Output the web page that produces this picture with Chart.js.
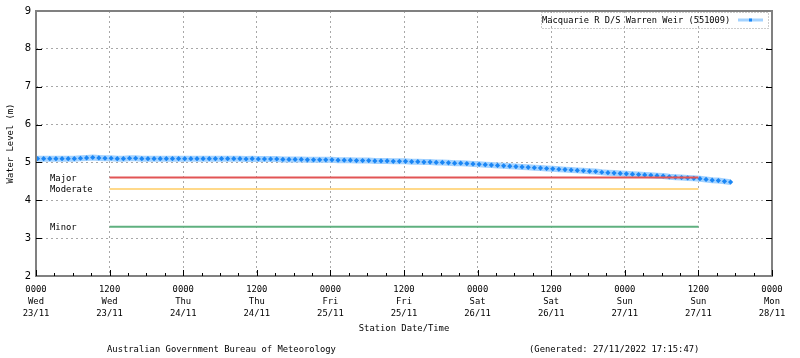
<!DOCTYPE html>
<html>

<head>
    <script src="https://cdn.jsdelivr.net/npm/chart.js"></script>
    <style>
        body { margin: 0; background: #fff; }
    </style>
</head>

<body>
    <canvas id="chartId" width="800" height="358"></canvas>
    <script>
        // hours since 0000 Wed 23/11, one reading per hour
        const startHour = 0.25;
        const levels = [
            5.10, 5.10, 5.10, 5.10, 5.10, 5.10, 5.10, 5.11, 5.12, 5.13,
            5.12, 5.11, 5.11, 5.10, 5.10, 5.11, 5.11, 5.10, 5.10, 5.10,
            5.10, 5.10, 5.10, 5.10, 5.10, 5.10, 5.10, 5.10, 5.10, 5.10,
            5.10, 5.10, 5.10, 5.10, 5.09, 5.10, 5.09, 5.09, 5.09, 5.09,
            5.08, 5.08, 5.08, 5.08, 5.07, 5.07, 5.07, 5.07, 5.07, 5.06,
            5.06, 5.06, 5.05, 5.05, 5.05, 5.04, 5.04, 5.04, 5.03, 5.03,
            5.03, 5.02, 5.02, 5.01, 5.01, 5.00, 5.00, 4.99, 4.98, 4.98,
            4.97, 4.96, 4.95, 4.94, 4.93, 4.92, 4.91, 4.90, 4.89, 4.88,
            4.87, 4.86, 4.85, 4.84, 4.83, 4.82, 4.81, 4.80, 4.79, 4.78,
            4.77, 4.76, 4.74, 4.73, 4.72, 4.71, 4.70, 4.69, 4.68, 4.67,
            4.66, 4.65, 4.64, 4.62, 4.61, 4.60, 4.59, 4.58, 4.57, 4.55,
            4.53, 4.52, 4.50, 4.48
        ];

        // flood classification levels (m) and the span they are drawn over (hours)
        const floodNames = ['Major', 'Moderate', 'Minor'];
        const floodLevels = [4.6, 4.3, 3.3];
        const floodColors = ['#e25555', '#ffd98a', '#5fb07f'];
        const floodSpan = [12, 108];

        // x tick labels, one per 12 hours
        const tickTimes = ['0000', '1200'];
        const tickDays = ['Wed', 'Wed', 'Thu', 'Thu', 'Fri', 'Fri', 'Sat', 'Sat', 'Sun', 'Sun', 'Mon'];
        const tickDates = ['23/11', '23/11', '24/11', '24/11', '25/11', '25/11', '26/11', '26/11', '27/11', '27/11', '28/11'];

        const seriesName = 'Macquarie R D/S Warren Weir (551009)';
        const mono = 'DejaVu Sans Mono';
        const textSize = 8.85;

        const points = levels.map((v, i) => ({ x: startHour + i, y: v }));

        const datasets = floodLevels.map((lv, i) => ({
            label: floodNames[i],
            data: [{ x: floodSpan[0], y: lv }, { x: floodSpan[1], y: lv }],
            borderColor: floodColors[i],
            borderWidth: 2,
            pointRadius: 0,
            fill: false
        }));
        datasets.push({
            label: seriesName,
            data: points,
            borderColor: '#a3d2ff',
            borderWidth: 6,
            pointStyle: 'rectRot',
            pointRadius: 2.6,
            pointBackgroundColor: '#1a86f5',
            pointBorderColor: '#1a86f5',
            pointBorderWidth: 0,
            fill: false
        });

        // frame, inward ticks, flood labels, legend box and footer
        const extras = {
            id: 'extras',
            afterDatasetsDraw(chart) {
                const ctx = chart.ctx;
                const a = chart.chartArea;
                const xs = chart.scales.x, ys = chart.scales.y;
                ctx.save();

                // frame
                ctx.strokeStyle = '#808080';
                ctx.lineWidth = 2;
                ctx.strokeRect(a.left, a.top, a.right - a.left, a.bottom - a.top);

                // inward ticks
                ctx.strokeStyle = '#000';
                ctx.lineWidth = 1;
                ctx.beginPath();
                for (let h = 0; h <= 120; h += 3) {
                    const px = Math.round(xs.getPixelForValue(h)) + 0.5;
                    const len = h % 12 === 0 ? 6 : 3;
                    ctx.moveTo(px, a.bottom);
                    ctx.lineTo(px, a.bottom - len);
                }
                for (let v = 3; v <= 8; v++) {
                    const py = Math.round(ys.getPixelForValue(v)) + 0.5;
                    ctx.moveTo(a.left, py);
                    ctx.lineTo(a.left + 6, py);
                    ctx.moveTo(a.right, py);
                    ctx.lineTo(a.right - 6, py);
                }
                ctx.stroke();

                // flood level labels
                ctx.font = textSize + 'px "' + mono + '"';
                ctx.fillStyle = '#000';
                ctx.textBaseline = 'middle';
                ctx.textAlign = 'left';
                floodLevels.forEach((lv, i) => {
                    ctx.fillText(floodNames[i], 50, ys.getPixelForValue(lv) + 1);
                });

                // footer
                ctx.fillText('Australian Government Bureau of Meteorology', 107, 350);
                ctx.fillText('(Generated: 27/11/2022 17:15:47)', 529, 350);

                // legend
                const lx = 541, ly = 12, lw = 227, lh = 16;
                ctx.setLineDash([1, 2]);
                ctx.strokeStyle = '#999';
                ctx.strokeRect(lx + 0.5, ly + 0.5, lw, lh);
                ctx.setLineDash([]);
                ctx.font = '8.7px "' + mono + '"';
                ctx.fillText(seriesName, 542, ly + lh / 2 + 1);
                ctx.strokeStyle = '#a3d2ff';
                ctx.lineWidth = 3;
                ctx.beginPath();
                ctx.moveTo(738, ly + lh / 2);
                ctx.lineTo(763, ly + lh / 2);
                ctx.stroke();
                ctx.fillStyle = '#1a86f5';
                ctx.fillRect(749, ly + lh / 2 - 1.5, 3, 3);
                ctx.restore();
            }
        };

        new Chart(document.getElementById('chartId'), {
            type: 'line',
            data: { datasets: datasets },
            plugins: [extras],
            options: {
                responsive: false,
                animation: false,
                layout: { padding: { left: 5, right: 28, top: 11, bottom: 24 } },
                plugins: {
                    legend: { display: false },
                    tooltip: { enabled: false }
                },
                scales: {
                    x: {
                        type: 'linear',
                        min: 0,
                        max: 120,
                        afterFit: s => { s.height = 58; },
                        ticks: {
                            stepSize: 12,
                            autoSkip: false,
                            maxRotation: 0,
                            padding: 8,
                            color: '#000',
                            font: { family: mono, size: textSize, lineHeight: 1.36 },
                            callback: (v) => {
                                const i = Math.round(v / 12);
                                return [tickTimes[i % 2], tickDays[i], tickDates[i]];
                            }
                        },
                        grid: {
                            drawTicks: false,
                            color: '#a8a8a8',
                            lineWidth: 1
                        },
                        border: { display: false, dash: [2, 3] },
                        title: {
                            display: true,
                            text: 'Station Date/Time',
                            color: '#000',
                            font: { family: mono, size: textSize },
                            padding: { top: 4, bottom: 0 }
                        }
                    },
                    y: {
                        min: 2,
                        max: 9,
                        afterFit: s => { s.width = 31; },
                        ticks: {
                            stepSize: 1,
                            padding: 5,
                            color: '#000',
                            font: { family: 'DejaVu Sans', size: 10 }
                        },
                        grid: {
                            drawTicks: false,
                            color: '#a8a8a8',
                            lineWidth: 1
                        },
                        border: { display: false, dash: [2, 3] },
                        title: {
                            display: true,
                            text: 'Water Level (m)',
                            color: '#000',
                            font: { family: mono, size: textSize },
                            padding: { top: 0, bottom: 0 }
                        }
                    }
                }
            }
        });
    </script>
</body>

</html>
